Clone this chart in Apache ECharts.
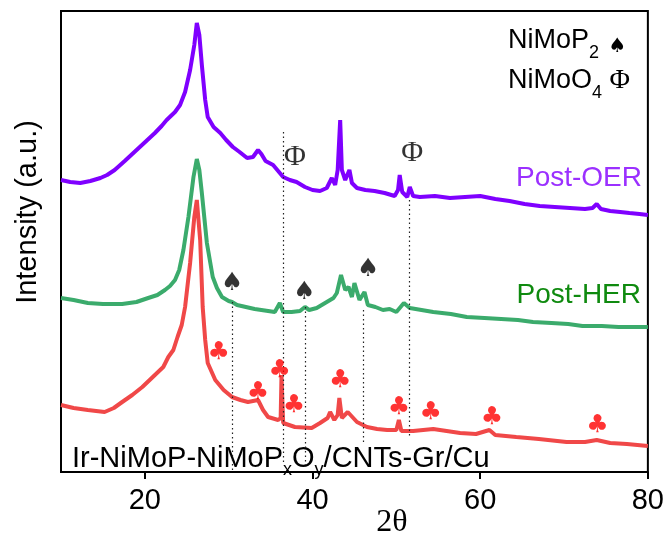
<!DOCTYPE html>
<html>
<head>
<meta charset="utf-8">
<script src="https://cdn.jsdelivr.net/npm/echarts@6/dist/echarts.min.js"></script>
<style>
html, body { margin: 0; padding: 0; background: #fff; }
#Mycharts { width: 667px; height: 539px; }
</style>
</head>
<body>
<div id="Mycharts"></div>
<script>
// XRD patterns, 2θ in degrees, intensity in a.u. (curves already offset)
const oerTheta = [10.0, 11.1, 12.3, 13.5, 14.7, 15.5, 16.4, 17.6, 18.5, 19.4, 20.3, 21.2, 22.0, 22.6, 23.6, 24.2, 24.8, 25.4, 25.9, 26.2, 26.5, 26.8, 27.2, 27.5, 28.2, 29.0, 29.7, 30.5, 31.3, 32.2, 32.9, 33.5, 33.9, 34.4, 35.3, 35.9, 36.5, 37.3, 38.1, 39.1, 40.0, 40.9, 41.7, 42.3, 42.7, 43.0, 43.3, 43.5, 43.9, 44.4, 44.7, 45.3, 46.3, 47.4, 48.6, 49.8, 50.2, 50.4, 50.7, 51.3, 51.6, 52.0, 52.8, 54.6, 56.4, 58.2, 60.0, 61.8, 63.5, 65.3, 67.1, 68.9, 70.7, 72.5, 73.4, 73.9, 74.4, 75.5, 76.7, 77.8, 79.0, 80.0]
const oerInt = [292, 290, 289, 291, 294, 297, 302, 311, 318, 325, 332, 339, 346, 352, 360, 367, 380, 402, 427, 449, 437, 407, 372, 355, 345, 339, 332, 325, 320, 314, 315, 322, 318, 311, 307, 301, 295, 292, 290, 285, 282, 281, 284, 294, 287, 302, 352, 302, 292, 302, 289, 284, 282, 281, 279, 276, 282, 297, 280, 275, 285, 276, 275, 276, 274, 275, 276, 273, 271, 268, 266, 265, 264, 263, 264, 268, 263, 261, 260, 259, 258, 257]

const herTheta = [10.0, 11.5, 13.2, 15.0, 17.3, 19.0, 20.4, 21.5, 22.4, 23.0, 23.6, 24.1, 24.6, 25.2, 25.8, 26.2, 26.5, 26.8, 27.4, 28.1, 28.6, 29.2, 30.0, 30.4, 31.0, 33.1, 35.5, 36.1, 36.5, 37.5, 38.5, 39.1, 39.6, 40.5, 41.7, 42.5, 42.9, 43.4, 43.9, 44.3, 44.7, 45.0, 45.6, 46.2, 46.6, 47.5, 48.4, 49.2, 50.0, 50.9, 51.6, 53.0, 54.4, 56.5, 58.4, 60.5, 62.5, 64.5, 66.3, 68.5, 70.5, 72.2, 74.5, 76.5, 78.5, 80.0]
const herInt = [174, 172, 169, 168, 168, 170, 174, 177, 182, 186, 192, 202, 222, 255, 295, 313, 302, 279, 229, 195, 184, 175, 171, 170, 167, 163, 160, 169, 160, 160, 161, 165, 162, 164, 170, 174, 179, 197, 182, 185, 175, 189, 172, 180, 167, 165, 162, 163, 160, 169, 164, 162, 160, 158, 155, 154, 153, 152, 150, 149, 148, 146, 146, 145, 145, 145]

const irTheta = [10.0, 11.5, 13.2, 15.2, 16.3, 17.3, 18.5, 19.7, 21.2, 22.2, 22.8, 23.4, 23.9, 24.4, 24.8, 25.4, 25.9, 26.2, 26.6, 26.9, 27.2, 27.5, 28.4, 29.4, 30.4, 31.4, 32.3, 33.5, 34.1, 34.7, 35.9, 36.2, 36.3, 36.5, 37.9, 39.9, 40.9, 41.8, 42.1, 42.6, 43.0, 43.2, 43.5, 44.2, 45.3, 46.5, 47.7, 48.9, 50.0, 50.3, 50.6, 52.0, 54.4, 56.0, 57.6, 59.5, 61.1, 61.8, 64.3, 67.0, 70.3, 72.5, 73.9, 75.5, 77.5, 80.0]
const irInt = [67, 64, 62, 60, 64, 70, 77, 85, 97, 105, 115, 122, 135, 147, 165, 209, 255, 272, 232, 165, 132, 109, 92, 82, 75, 72, 70, 72, 62, 55, 52, 54, 97, 49, 45, 44, 49, 54, 60, 52, 57, 74, 54, 60, 50, 45, 43, 42, 42, 52, 41, 41, 43, 41, 39, 38, 42, 37, 35, 33, 30, 30, 32, 29, 28, 26]

// reference lines (2θ) with their top / bottom intensity
const refTheta = [30.4, 36.45, 39.1, 46.1, 51.5]
const refTop = [170, 340, 165, 162, 272]
const refBottom = [2, 7, 7, 30, 35]

// phase markers
const spadeTheta = [30.4, 39.0, 46.6]
const spadeInt = [189, 180, 203]
const phiTheta = [37.9, 51.9]
const phiInt = [315, 319]
const clubTheta = [28.8, 33.5, 36.1, 37.8, 43.3, 50.3, 54.1, 61.4, 74.0]
const clubInt = [120, 80, 102, 67, 92, 65, 60, 55, 47]

const xTicks = [20, 40, 60, 80]

const zip = (a, b) => a.map((v, i) => [v, b[i]])
const sans = 'Liberation Sans, Arial, sans-serif'
const serif = 'Liberation Serif, Times New Roman, serif'

function markerSeries (theta, ints, text, color, size, family) {
  return {
    type: 'scatter',
    data: zip(theta, ints),
    symbolSize: 1,
    itemStyle: { color: 'rgba(0,0,0,0)' },
    label: {
      show: true,
      position: 'inside',
      formatter: text,
      color: color,
      fontSize: size,
      fontFamily: family
    },
    z: 5
  }
}

let Mycharts = echarts.init(document.getElementById('Mycharts'))
Mycharts.setOption({
  animation: false,
  grid: {
    left: 61,
    right: 19,
    top: 11,
    bottom: 67,
    show: true,
    borderColor: '#000',
    borderWidth: 2
  },
  xAxis: {
    type: 'value',
    min: 10,
    max: 80,
    axisLine: { lineStyle: { color: '#000', width: 2 } },
    axisTick: { customValues: xTicks, length: 7, lineStyle: { color: '#000', width: 2 } },
    axisLabel: { customValues: xTicks, color: '#000', fontSize: 29, fontFamily: sans, margin: 14 },
    splitLine: { show: false }
  },
  yAxis: {
    type: 'value',
    min: 0,
    max: 461,
    axisLine: { show: true, lineStyle: { color: '#000', width: 2 } },
    axisTick: { show: false },
    axisLabel: { show: false },
    splitLine: { show: false }
  },
  series: [
    {
      name: 'Post-OER',
      type: 'line',
      data: zip(oerTheta, oerInt),
      showSymbol: false,
      lineStyle: { color: '#7f00ff', width: 4 },
      z: 2,
      markLine: {
        silent: true,
        symbol: 'none',
        label: { show: false },
        lineStyle: { color: '#222', width: 1.2, type: [1.5, 3] },
        data: refTheta.map((t, i) => [{ coord: [t, refTop[i]] }, { coord: [t, refBottom[i]] }])
      }
    },
    {
      name: 'Post-HER',
      type: 'line',
      data: zip(herTheta, herInt),
      showSymbol: false,
      lineStyle: { color: '#3bab6c', width: 4 },
      z: 3
    },
    {
      name: 'Ir-NiMoP-NiMoPxOy/CNTs-Gr/Cu',
      type: 'line',
      data: zip(irTheta, irInt),
      showSymbol: false,
      lineStyle: { color: '#f04848', width: 4 },
      z: 4
    },
    markerSeries(spadeTheta, spadeInt, '♠', '#000', 25, 'DejaVu Sans'),
    markerSeries(phiTheta, phiInt, 'Φ', '#000', 30, serif),
    markerSeries(clubTheta, clubInt, '♣', '#ff0000', 25, 'DejaVu Sans')
  ],
  graphic: [
    {
      type: 'text', x: 28, y: 212, rotation: Math.PI / 2,
      style: { text: 'Intensity (a.u.)', align: 'center', verticalAlign: 'middle', fontSize: 29, fontFamily: sans, fill: '#000' }
    },
    {
      type: 'text', x: 392, y: 523,
      style: { text: '2θ', align: 'center', verticalAlign: 'middle', fontSize: 32, fontFamily: serif, fill: '#000' }
    },
    {
      type: 'text', x: 642, y: 178,
      style: { text: 'Post-OER', align: 'right', verticalAlign: 'middle', fontSize: 28, fontFamily: sans, fill: '#9b30ff' }
    },
    {
      type: 'text', x: 641, y: 295,
      style: { text: 'Post-HER', align: 'right', verticalAlign: 'middle', fontSize: 28, fontFamily: sans, fill: '#0f8a0f' }
    },
    {
      type: 'text', x: 508, y: 27,
      style: {
        text: '{n|NiMoP}{s|2}{n| }{sym|♠}',
        align: 'left', verticalAlign: 'top', fill: '#000',
        rich: {
          n: { fontSize: 27, fontFamily: sans, lineHeight: 36, verticalAlign: 'top' },
          s: { fontSize: 18, fontFamily: sans, lineHeight: 18, padding: [17, 0, 0, 0], verticalAlign: 'top' },
          sym: { fontSize: 20, fontFamily: 'DejaVu Sans', lineHeight: 20, padding: [10, 0, 0, 2], verticalAlign: 'top' }
        }
      }
    },
    {
      type: 'text', x: 508, y: 67,
      style: {
        text: '{n|NiMoO}{s|4}{n| }{phi|Φ}',
        align: 'left', verticalAlign: 'top', fill: '#000',
        rich: {
          n: { fontSize: 27, fontFamily: sans, lineHeight: 36, verticalAlign: 'top' },
          s: { fontSize: 18, fontFamily: sans, lineHeight: 18, padding: [17, 0, 0, 0], verticalAlign: 'top' },
          phi: { fontSize: 28, fontFamily: serif, lineHeight: 36, verticalAlign: 'top' }
        }
      }
    },
    {
      type: 'text', x: 72, y: 444,
      style: {
        text: '{n|Ir-NiMoP-NiMoP}{s|x}{n|O}{s|y}{n|/CNTs-Gr/Cu}',
        align: 'left', verticalAlign: 'top', fill: '#000',
        rich: {
          n: { fontSize: 29, fontFamily: sans, lineHeight: 38, verticalAlign: 'top' },
          s: { fontSize: 18, fontFamily: sans, lineHeight: 18, padding: [17, 0, 0, 0], verticalAlign: 'top' }
        }
      }
    }
  ]
})
</script>
</body>
</html>
